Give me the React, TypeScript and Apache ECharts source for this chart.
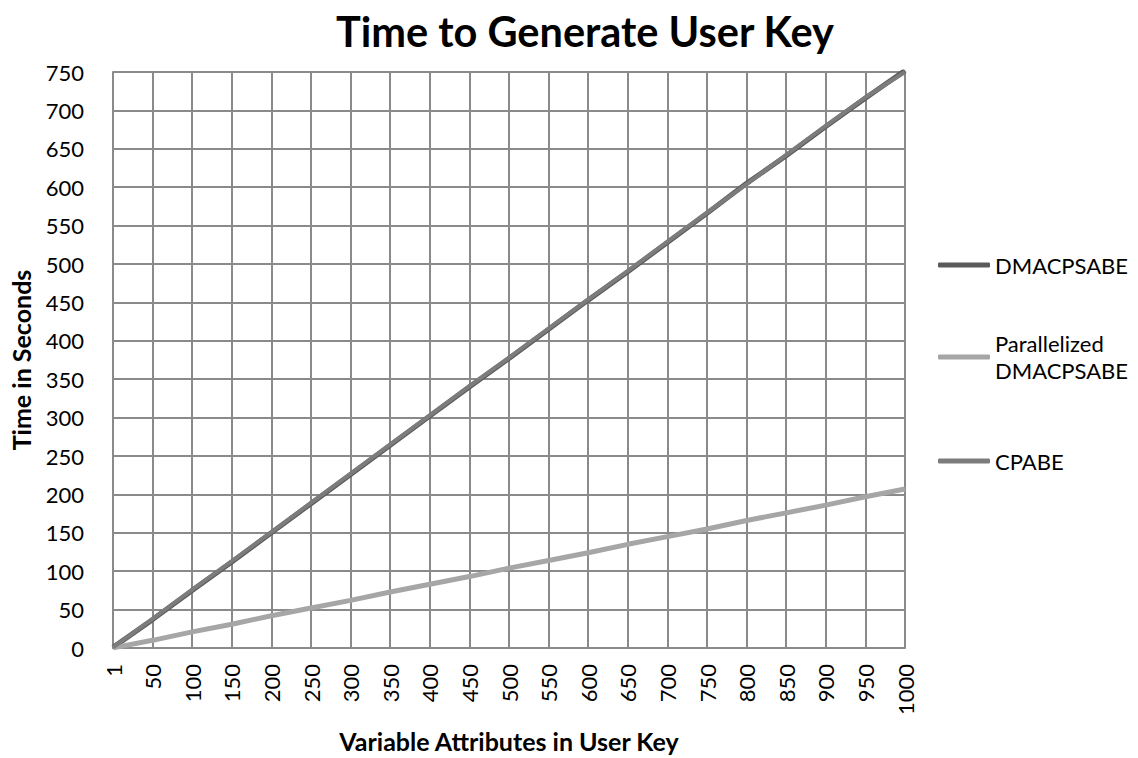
import React, { useEffect, useRef } from "react";
import * as echarts from "echarts";

const categories = ["1", "50", "100", "150", "200", "250", "300", "350", "400", "450", "500", "550", "600", "650", "700", "750", "800", "850", "900", "950", "1000"];
const dmacpsabe = [0.8, 37, 75, 112, 150, 188, 226, 264, 302, 340, 377, 415, 453, 490, 528, 566, 605, 641, 679, 716, 752];
const parallelized = [0.2, 10, 21, 31, 42, 52, 62, 73, 83, 93, 104, 114, 124, 135, 145, 155, 166, 176, 186, 197, 207];
const cpabe = [0.7, 38, 76, 113, 151, 189, 227, 265, 303, 341, 378, 416, 454, 491, 529, 567, 604, 642, 680, 717, 750];

const FONT = "Lato, 'Open Sans', sans-serif";

export default function App() {
  const ref = useRef<HTMLDivElement>(null);
  useEffect(() => {
    if (!ref.current) return;
    const chart = echarts.init(ref.current, null, { renderer: "svg" });
    const legendText = { fontSize: 22, fontFamily: FONT, color: "#000", lineHeight: 27 };
    const mkLegend = (name: string, top: number, extra: any = {}) => ({
      data: [name],
      left: 938,
      top,
      orient: "vertical",
      icon: "roundRect",
      itemWidth: 52,
      itemHeight: 5,
      itemGap: 0,
      padding: 0,
      textStyle: { ...legendText, ...extra },
      selectedMode: false,
    });
    chart.setOption({
      animation: false,
      backgroundColor: "#fff",
      title: {
        text: "Time to Generate User Key",
        left: 331,
        top: 5,
        textStyle: { fontSize: 41.5, fontWeight: "bold", fontFamily: FONT, color: "#000" },
      },
      legend: [
        mkLegend("DMACPSABE", 251.5),
        {
          ...mkLegend("Parallelized DMACPSABE", 316.5, { padding: [27, 0, 0, 0] }),
          formatter: () => "Parallelized\nDMACPSABE",
        },
        mkLegend("CPABE", 447.5),
      ],
      grid: { left: 113, right: 233, top: 72, bottom: 109, containLabel: false },
      xAxis: {
        type: "category",
        data: categories,
        boundaryGap: false,
        name: "Variable Attributes in User Key",
        nameLocation: "middle",
        nameGap: 80,
        nameTextStyle: { fontSize: 25, fontWeight: "bold", fontFamily: FONT, color: "#000" },
        axisLine: { show: true, lineStyle: { color: "#8a8a8a", width: 2 } },
        axisTick: { show: false },
        axisLabel: { interval: 0, rotate: 90, margin: 16, fontSize: 22, fontFamily: FONT, color: "#000" },
        splitLine: { show: true, interval: 0, lineStyle: { color: "#8a8a8a", width: 2 } },
      },
      yAxis: {
        type: "value",
        min: 0,
        max: 750,
        interval: 50,
        name: "Time in Seconds",
        nameLocation: "middle",
        nameGap: 80,
        nameTextStyle: { fontSize: 25, fontWeight: "bold", fontFamily: FONT, color: "#000" },
        axisLine: { show: true, lineStyle: { color: "#8a8a8a", width: 2 } },
        axisTick: { show: false },
        axisLabel: { margin: 29, fontSize: 22, fontFamily: FONT, color: "#000" },
        splitLine: { show: true, lineStyle: { color: "#8a8a8a", width: 2 } },
      },
      series: [
        { name: "DMACPSABE", type: "line", data: dmacpsabe, symbol: "none", color: "#5a5a5a", lineStyle: { width: 5, color: "#5a5a5a" } },
        { name: "Parallelized DMACPSABE", type: "line", data: parallelized, symbol: "none", color: "#a6a6a6", lineStyle: { width: 5, color: "#a6a6a6" } },
        { name: "CPABE", type: "line", data: cpabe, symbol: "none", color: "#7c7c7c", lineStyle: { width: 4, color: "#7c7c7c" } },
      ],
    });
    return () => chart.dispose();
  }, []);
  return <div ref={ref} style={{ position: "fixed", left: 0, top: 0, width: 1138, height: 758 }} />;
}
